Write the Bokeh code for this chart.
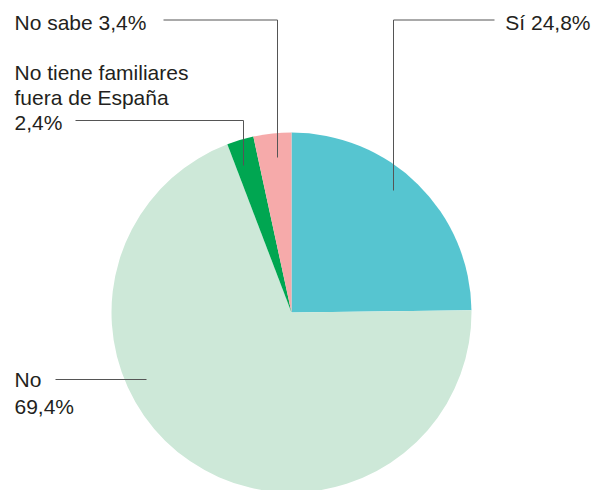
import math
from bokeh.plotting import figure
from bokeh.models import Range1d
from bokeh.core.properties import value
from bokeh.embed import file_html
from bokeh.resources import INLINE

categories = ["Sí", "No", "No tiene familiares fuera de España", "No sabe"]
values = [24.8, 69.4, 2.4, 3.4]
colors = ["#56C5D0", "#CDE8D8", "#00A651", "#F6AAAA"]

W, H = 596, 490
p = figure(width=W, height=H, output_backend="svg", toolbar_location=None,
           x_range=Range1d(0, W), y_range=Range1d(0, H),
           min_border=0, outline_line_color=None)
p.axis.visible = False
p.grid.visible = False
p.background_fill_color = "white"

def Y(py):
    return H - py

cx, cy, r = 291, Y(312), 180
total = sum(values)
start = 90.0
starts, ends = [], []
for v in values:
    sweep = v / total * 360.0
    end = start - sweep
    starts.append(math.radians(end))
    ends.append(math.radians(start))
    start = end

p.wedge(x=[cx] * 4, y=[cy] * 4, radius=r, start_angle=starts, end_angle=ends,
        fill_color=colors, line_color=None)

lc = "#555555"
# leader lines
p.line([163, 277, 277], [Y(19.5), Y(19.5), Y(157)], line_color=lc, line_width=1)
p.line([75, 243, 243], [Y(120), Y(120), Y(165)], line_color=lc, line_width=1)
p.line([494, 393, 393], [Y(19.5), Y(19.5), Y(190)], line_color=lc, line_width=1)
p.line([55, 146], [Y(379), Y(379)], line_color=lc, line_width=1)

font = value("Liberation Sans")
tc = "#231F20"
fs = "21px"
def txt(x, y, s, align="left"):
    p.text(x=[x], y=[Y(y)], text=[s], text_font=font, text_font_size=fs,
           text_color=tc, text_align=align, text_baseline="middle")

txt(14, 22, "No sabe 3,4%")
txt(14, 72, "No tiene familiares")
txt(14, 97, "fuera de España")
txt(14, 122, "2,4%")
txt(590, 22, "Sí 24,8%", "right")
txt(14, 379, "No")
txt(14, 405.5, "69,4%")

open("out.html", "w").write(file_html(p, INLINE))
